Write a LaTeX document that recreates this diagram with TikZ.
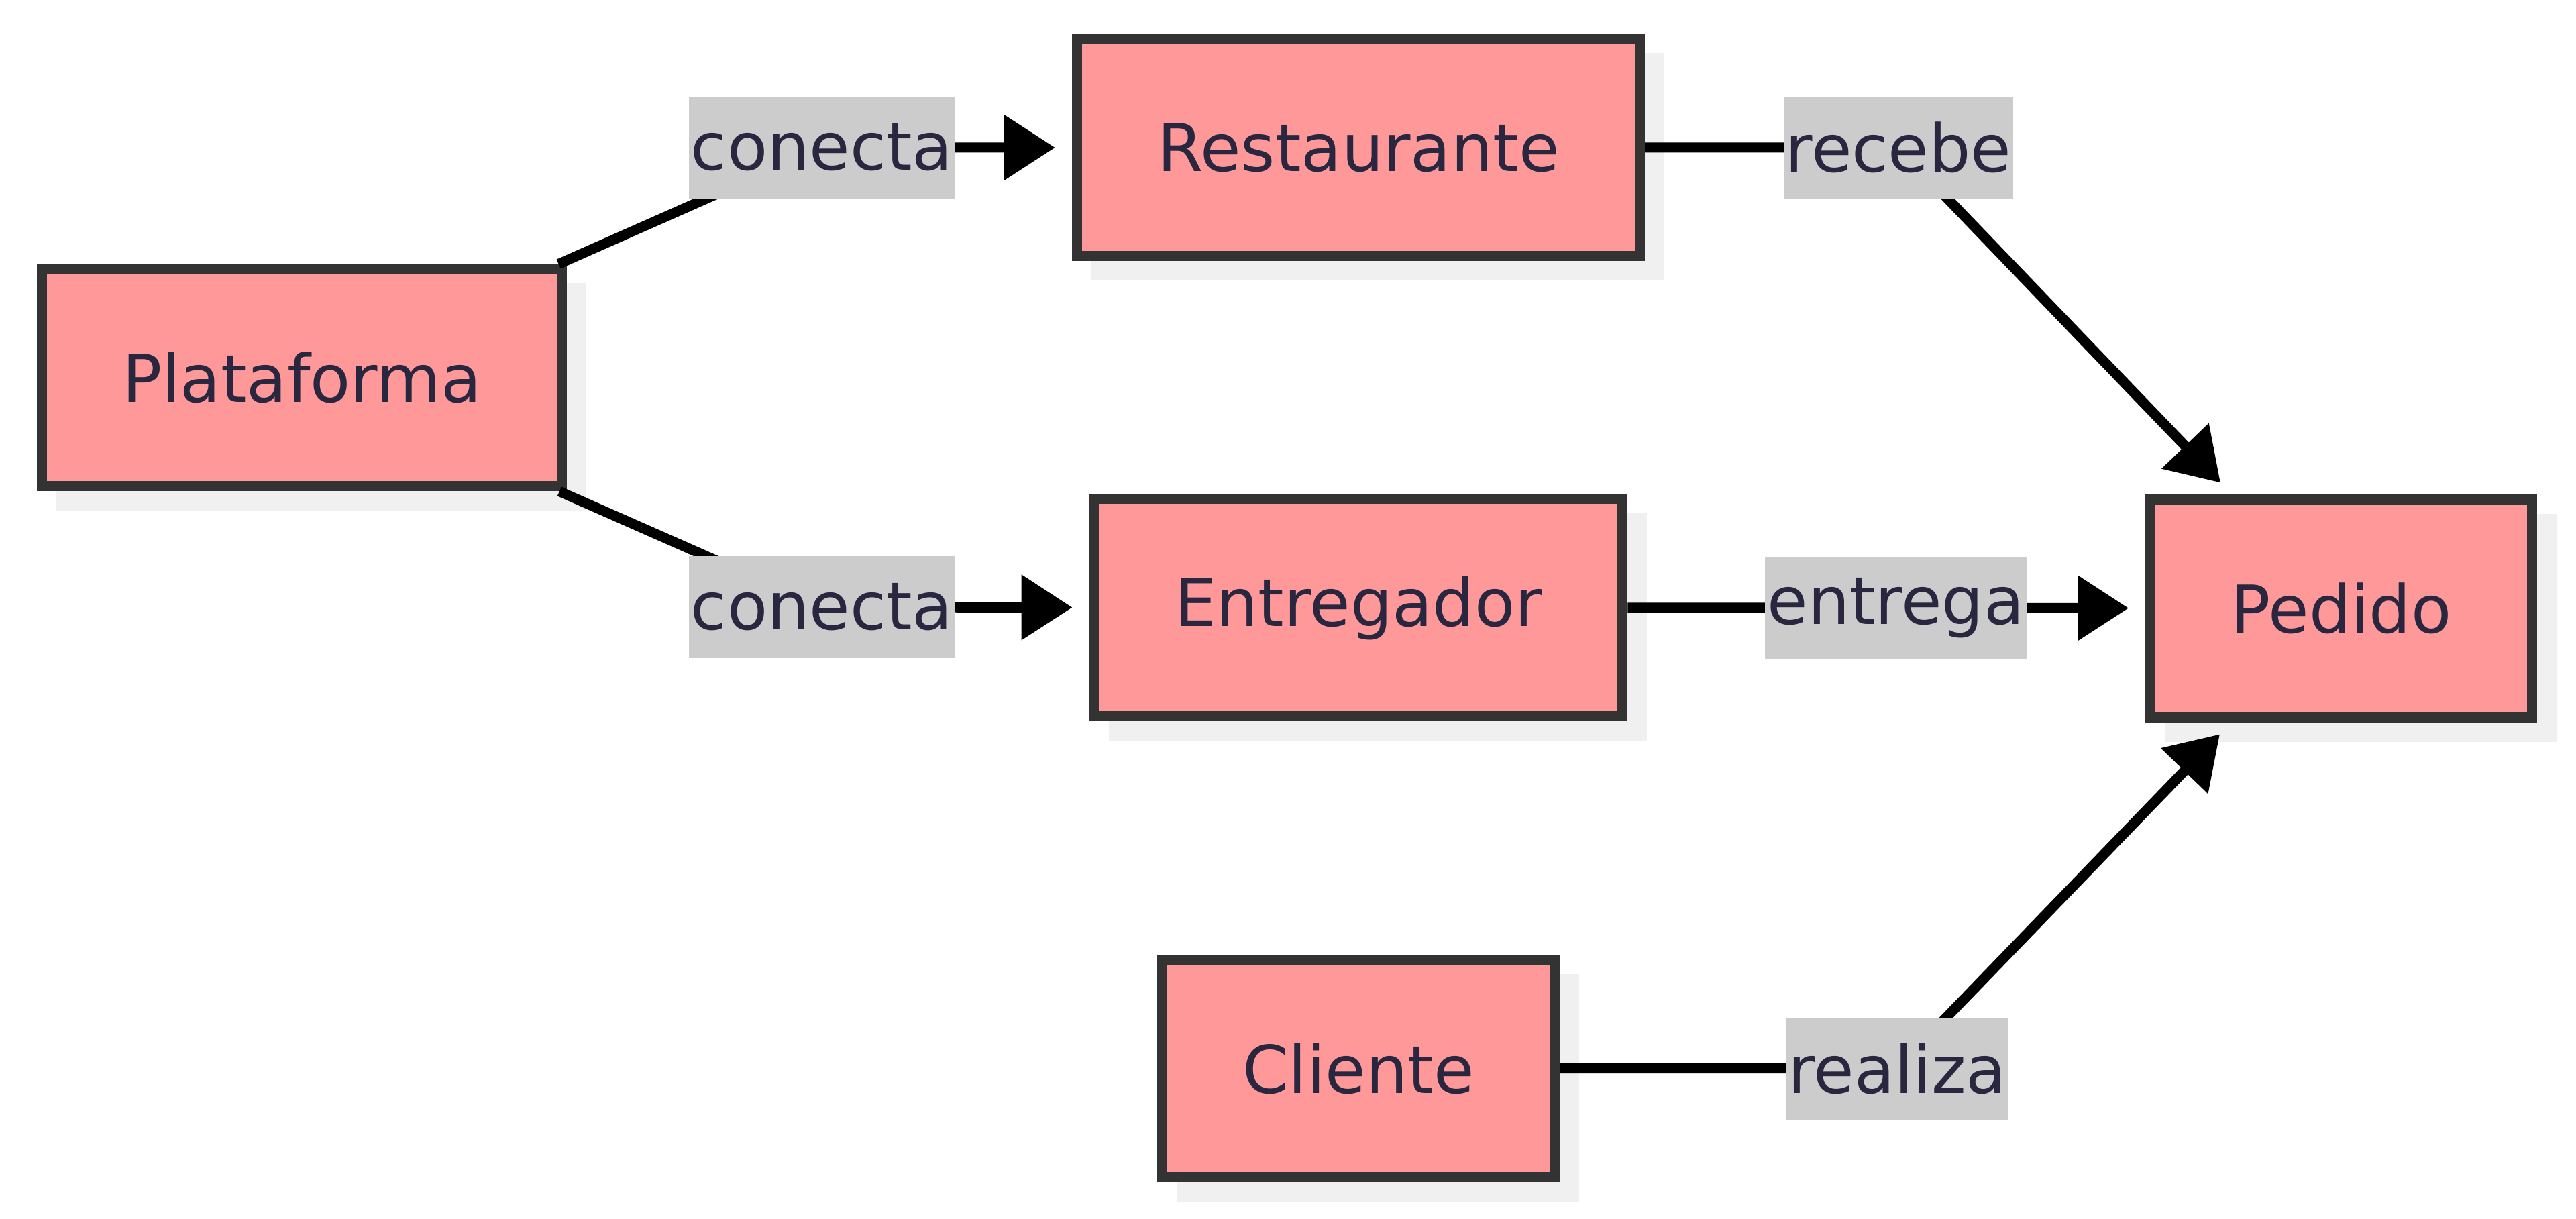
\documentclass[tikz,border=0pt]{standalone}
\usepackage{fontspec}
\setmainfont{DejaVu Sans}
\usetikzlibrary{arrows.meta,shadows}
\definecolor{boxfill}{HTML}{FF9999}
\definecolor{boxline}{HTML}{333333}
\definecolor{labelfill}{HTML}{CCCCCC}
\definecolor{shadowgray}{HTML}{F0F0F0}
\definecolor{textnavy}{HTML}{29263F}
\begin{document}
\begin{tikzpicture}[
  entity/.style={draw=boxline, fill=boxfill, line width=0.15cm,
    minimum height=3.24cm, inner xsep=1.2cm, text=textnavy,
    font=\fontsize{28pt}{34pt}\selectfont,
    drop shadow={shadow xshift=0.29cm, shadow yshift=-0.29cm,
      fill=shadowgray, draw=shadowgray, opacity=1}},
  edgelabel/.style={fill=labelfill, minimum height=1.52cm, inner xsep=0.03cm,
    inner ysep=0pt, text=textnavy, font=\fontsize{28pt}{34pt}\selectfont},
  link/.style={line width=0.15cm, -{Triangle[length=0.76cm,width=0.94cm]},
    shorten >=0.25cm}
]
\useasboundingbox (0,0) rectangle (38.40,-18.17);
\node[entity] (plat) at (4.50,-5.63) {Plataforma};
\node[entity] (rest) at (20.25,-2.20) {Restaurante};
\node[entity] (ent) at (20.25,-9.06) {Entregador};
\node[entity] (cli) at (20.25,-15.925) {Cliente};
\node[entity] (ped) at (34.90,-9.07) {Pedido};
\coordinate (c1) at (12.25,-2.20);
\coordinate (c2) at (12.25,-9.05);
\coordinate (c3) at (28.30,-2.20);
\coordinate (c4) at (28.26,-9.06);
\coordinate (c5) at (28.28,-15.925);
\draw[link] (plat) -- (c1) -- (rest);
\draw[link] (plat) -- (c2) -- (ent);
\draw[link] (rest) -- (c3) -- (ped);
\draw[link] (ent) -- (c4) -- (ped);
\draw[link] (cli) -- (c5) -- (ped);
\node[edgelabel] (l1) at (c1) {conecta};
\node[edgelabel] (l2) at (c2) {conecta};
\node[edgelabel] (l3) at (c3) {recebe};
\node[edgelabel] (l4) at (c4) {entrega};
\node[edgelabel] (l5) at (c5) {realiza};
\end{tikzpicture}
\end{document}
